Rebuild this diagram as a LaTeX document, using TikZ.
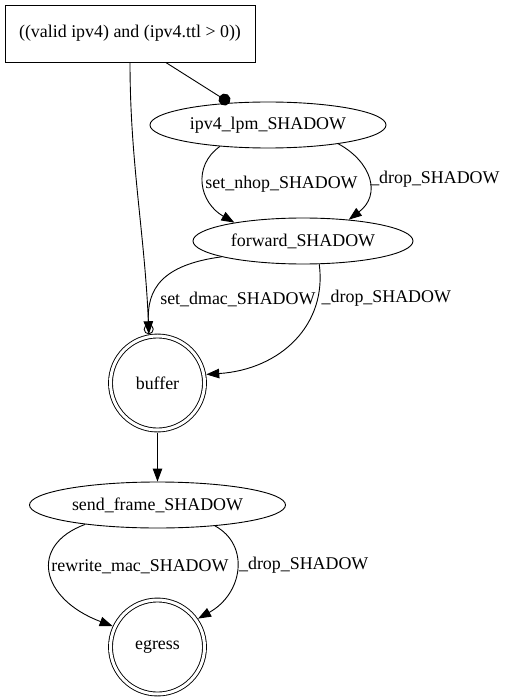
\documentclass[tikz,border=0pt]{standalone}
\usepackage{fontspec}
\setmainfont{Liberation Serif}
\usepackage{tikz}
\usetikzlibrary{arrows.meta,positioning,shapes.geometric,calc}

\begin{document}
\begin{tikzpicture}[x=1pt, y=-1pt, line width=0.9pt,
  every node/.style={font=\fontsize{17.9}{21.5}\selectfont},
  condbox/.style={draw, rectangle, minimum width=250pt, minimum height=57pt, inner sep=0pt},
  tablebox/.style={draw, ellipse, minimum height=46pt, inner sep=0pt},
  exitbox/.style={draw, circle, double, double distance=3pt,
    minimum size=94pt, inner sep=0pt, outer sep=2.5pt},
  edgelbl/.style={right, inner sep=1.5pt},
  flow/.style={-{Triangle[length=13pt,width=9.5pt]}}]

\useasboundingbox (0,0) rectangle (505,700);

% Condition
\node[condbox] (cond) at (130,33.5) {((valid ipv4) and (ipv4.ttl > 0))};

% Tables and exits
\node[tablebox, minimum width=236pt] (lpm) at (268,125) {ipv4\_lpm\_SHADOW};
\node[tablebox, minimum width=220pt] (fwd) at (303,241) {forward\_SHADOW};
\node[exitbox] (buf) at (157.5,383) {buffer};
\node[tablebox, minimum width=256pt] (send) at (157.5,505) {send\_frame\_SHADOW};
\node[exitbox] (egress) at (157.5,647) {egress};

% Condition outcomes
\draw[-{Circle[length=12pt]}] (cond.-39) -- (lpm.150);
\draw[-{Circle[open,length=10pt]}] (cond.south) .. controls +(0,100) and +(-4,-100) .. (buf.100);

% ipv4_lpm_SHADOW actions
\draw[flow] (lpm.204) .. controls +(-28,20) and +(-35,-20) .. (fwd.165)
  node[edgelbl, midway] {set\_nhop\_SHADOW};
\draw[flow] (lpm.345) .. controls +(33,18) and +(33,-25) .. (fwd.25)
  node[edgelbl, midway] {\_drop\_SHADOW};

% forward_SHADOW actions
\draw[flow] (fwd.191) .. controls +(-60,8) and +(-2,-45) .. (buf.100)
  node[edgelbl, pos=0.7, xshift=6pt] {set\_dmac\_SHADOW};
\draw[flow] (fwd.305) .. controls +(8,60) and +(75,-5) .. (buf.10)
  node[edgelbl, pos=0.2, xshift=2pt] {\_drop\_SHADOW};

% buffer to egress
\draw[flow] (buf.south) -- (send.north);
\draw[flow] (send.195) .. controls +(-57,21) and +(-72,-27) .. (egress.155)
  node[edgelbl, pos=0.45] {rewrite\_mac\_SHADOW};
\draw[flow] (send.340) .. controls +(35,19) and +(45,-25) .. (egress.35)
  node[edgelbl, pos=0.45] {\_drop\_SHADOW};

\end{tikzpicture}
\end{document}
